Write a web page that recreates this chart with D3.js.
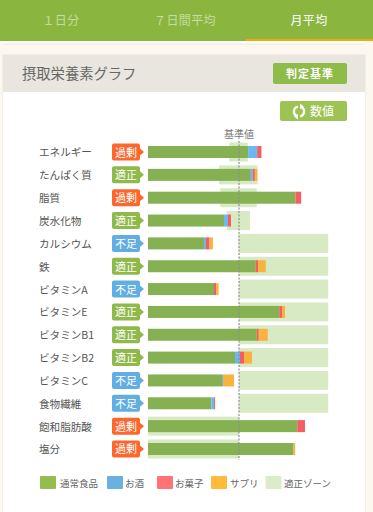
<!DOCTYPE html>
<html>
<head>
<meta charset="utf-8">
<script src="https://cdnjs.cloudflare.com/ajax/libs/d3/7.8.5/d3.min.js"></script>
<style>
html, body { margin: 0; padding: 0; background: #fdf8ef; overflow: hidden; }
svg { display: block; }
text { font-family: "Noto Sans CJK JP", "Noto Sans", sans-serif; }
</style>
</head>
<body>
<svg id="chart" width="373" height="512"></svg>
<script>
// values are percent of the reference value
var nutrients = ["エネルギー", "たんぱく質", "脂質", "炭水化物", "カルシウム", "鉄", "ビタミンA", "ビタミンE", "ビタミンB1", "ビタミンB2", "ビタミンC", "食物繊維", "飽和脂肪酸", "塩分"];
var verdicts = ["過剰", "適正", "過剰", "適正", "不足", "適正", "不足", "適正", "適正", "適正", "不足", "不足", "過剰", "過剰"];
var regular = [110, 113, 162, 83.5, 61.5, 118.4, 72.5, 144.3, 119.5, 95.6, 81.3, 69.6, 164, 160];
var alcohol = [10, 2.2, 0, 4.4, 2.2, 0, 0, 0, 0, 5.5, 1.1, 3, 0, 0];
var sweets = [4.6, 2.2, 6.3, 3.3, 4, 2.5, 2.5, 3, 2.2, 4.4, 0, 1.1, 8.5, 0];
var supplement = [0, 2.7, 0, 0, 3.6, 8.5, 2.6, 3.3, 9.9, 8.8, 12.1, 0, 0, 1.8];
var zoneLow = [89.3, 78, 79.4, 86.5, 100, 100, 100, 100, 100, 100, 100, 100, 0, 0];
var zoneHigh = [109.6, 120.5, 119.5, 112, 198, 198, 198, 198, 198, 198, 198, 198, 100, 100];
var tabs = ["１日分", "７日間平均", "月平均"];
var legendLabels = ["通常食品", "お酒", "お菓子", "サプリ", "適正ゾーン"];
var legendColors = ["#93bd4c", "#6ab0e0", "#ff7278", "#ffbb3c", "#dcebc8"];

var svg = d3.select("#chart");

var x = d3.scaleLinear().domain([0, 100]).range([148, 239]);
var y = d3.scaleBand().domain(nutrients).range([140.6, 460.4]);

var seriesColor = d3.scaleOrdinal()
    .domain(["regular", "alcohol", "sweets", "supplement"])
    .range(["#85b152", "#6cb8f2", "#f65d60", "#f8b23f"]);
var verdictColor = d3.scaleOrdinal()
    .domain(["過剰", "適正", "不足"])
    .range(["#fb672c", "#8fb94a", "#62aee2"]);

var rows = nutrients.map(function(d, i) {
	return {name: d, verdict: verdicts[i], regular: regular[i], alcohol: alcohol[i], sweets: sweets[i], supplement: supplement[i], low: zoneLow[i], high: zoneHigh[i]};
});

// page frame
svg.append("rect").attr("width", 373).attr("height", 512).attr("fill", "#fdf8ef");
svg.append("rect").attr("x", 3).attr("y", 36).attr("width", 362).attr("height", 8.5).attr("fill", "#fff");
svg.append("rect").attr("x", 3).attr("y", 43.5).attr("width", 362).attr("height", 1).attr("fill", "#e9e6dd");
svg.append("rect").attr("width", 373).attr("height", 41).attr("fill", "#8ab63f");
svg.append("rect").attr("x", 246).attr("y", 39).attr("width", 127).attr("height", 2).attr("fill", "#f5a80f");

svg.selectAll(".tab").data(tabs).enter().append("text")
	.attr("class", "tab")
	.attr("x", function(d, i) { return [61, 185, 309][i]; })
	.attr("y", 24.5)
	.attr("text-anchor", "middle")
	.attr("font-size", 12)
	.attr("letter-spacing", 0.4)
	.attr("fill", function(d, i) { return i == 2 ? "#fff" : "#c6dca0"; })
	.text(function(d) { return d; });

// card
svg.append("rect").attr("x", 2).attr("y", 54).attr("width", 364).attr("height", 458).attr("fill", "#f3efe4");
svg.append("rect").attr("x", 3).attr("y", 92).attr("width", 362).attr("height", 420).attr("fill", "#fff");
svg.append("rect").attr("x", 3).attr("y", 55).attr("width", 362).attr("height", 37).attr("fill", "#e8e6de");
svg.append("text").attr("x", 22).attr("y", 79).attr("font-size", 14.3).attr("fill", "#666").text("摂取栄養素グラフ");

svg.append("rect").attr("x", 273).attr("y", 63).attr("width", 74).attr("height", 21).attr("rx", 2).attr("fill", "#8fbb4a");
svg.append("text").attr("x", 310).attr("y", 78).attr("text-anchor", "middle").attr("font-size", 11).attr("font-weight", 700).attr("letter-spacing", 1).attr("fill", "#fff").text("判定基準");

svg.append("rect").attr("x", 280).attr("y", 101).attr("width", 67).attr("height", 20).attr("rx", 2).attr("fill", "#9cc353");
svg.append("text").attr("x", 310).attr("y", 116).attr("font-size", 12).attr("fill", "#fff").text("数値");

// refresh icon, two arcs with arrow heads
var refresh = svg.append("g").attr("transform", "translate(299,111.5)");
var refreshArc = d3.arc().innerRadius(4).outerRadius(6.2);
[[0.5, 2.9], [3.65, 6.05]].forEach(function(a) {
	refresh.append("path").attr("fill", "#fff").attr("d", refreshArc({startAngle: a[0], endAngle: a[1]}));
});
refresh.append("path").attr("fill", "#fff").attr("d", "M1,-8L1,-2.5L5,-5Z");
refresh.append("path").attr("fill", "#fff").attr("d", "M-1,8L-1,2.5L-5,5Z");

// reference zones sit under the bars
svg.append("g").selectAll("rect").data(rows).enter().append("rect")
	.attr("x", function(d) { return x(d.low); })
	.attr("y", function(d) { return y(d.name) + (y.bandwidth() - 19) / 2; })
	.attr("width", function(d) { return x(d.high) - x(d.low); })
	.attr("height", 19)
	.attr("fill", "#d8eac4");

// stacked bars
var stack = d3.stack().keys(seriesColor.domain());
svg.append("g").selectAll("g").data(stack(rows)).enter().append("g")
	.attr("fill", function(d) { return seriesColor(d.key); })
	.selectAll("rect").data(function(d) { return d; }).enter().append("rect")
	.attr("x", function(d) { return x(d[0]); })
	.attr("y", function(d) { return y(d.data.name) + (y.bandwidth() - 12) / 2; })
	.attr("width", function(d) { return x(d[1]) - x(d[0]); })
	.attr("height", 12);

// reference line
svg.append("line")
	.attr("x1", x(100)).attr("x2", x(100))
	.attr("y1", 141).attr("y2", 460)
	.attr("stroke", "#8f8f8f")
	.attr("stroke-width", 1.5)
	.attr("stroke-dasharray", "2,1.5")
	.attr("stroke-opacity", 0.8);
svg.append("text").attr("x", x(100)).attr("y", 138).attr("text-anchor", "middle").attr("font-size", 10).attr("fill", "#777").text("基準値");

// nutrient names
var yAxis = svg.append("g")
	.attr("transform", "translate(39,0)")
	.call(d3.axisRight(y).tickSize(0).tickPadding(0));
yAxis.select(".domain").remove();
yAxis.selectAll("text")
	.attr("font-family", '"Noto Sans CJK JP", sans-serif')
	.attr("font-size", 10.6)
	.attr("dy", "0.42em")
	.attr("fill", "#555");

// verdict badges
var badge = svg.append("g").selectAll("g").data(rows).enter().append("g")
	.attr("transform", function(d) { return "translate(112," + (y(d.name) + y.bandwidth() / 2) + ")"; });
badge.append("path")
	.attr("d", function() {
		var p = d3.path();
		p.moveTo(2, -8.5);
		p.lineTo(26, -8.5);
		p.quadraticCurveTo(28, -8.5, 28, -6.5);
		p.lineTo(28, -3.5);
		p.lineTo(32, 0);
		p.lineTo(28, 3.5);
		p.lineTo(28, 6.5);
		p.quadraticCurveTo(28, 8.5, 26, 8.5);
		p.lineTo(2, 8.5);
		p.quadraticCurveTo(0, 8.5, 0, 6.5);
		p.lineTo(0, -6.5);
		p.quadraticCurveTo(0, -8.5, 2, -8.5);
		p.closePath();
		return p.toString();
	})
	.attr("fill", function(d) { return verdictColor(d.verdict); });
badge.append("text")
	.attr("x", 14)
	.attr("y", 4.5)
	.attr("text-anchor", "middle")
	.attr("font-size", 11)
	.attr("fill", "#fff")
	.text(function(d) { return d.verdict; });

// legend
var legendPos = [40, 107, 157, 211, 265.5];
var legendText = [60, 125, 175, 230, 284];
var legend = svg.append("g").selectAll("g").data(legendLabels).enter().append("g");
legend.append("rect")
	.attr("x", function(d, i) { return legendPos[i]; })
	.attr("y", 476)
	.attr("width", 16)
	.attr("height", 13)
	.attr("rx", 1)
	.attr("fill", function(d, i) { return legendColors[i]; });
legend.append("text")
	.attr("x", function(d, i) { return legendText[i]; })
	.attr("y", 487)
	.attr("font-size", 9.5)
	.attr("fill", "#666")
	.text(function(d) { return d; });
</script>
</body>
</html>
